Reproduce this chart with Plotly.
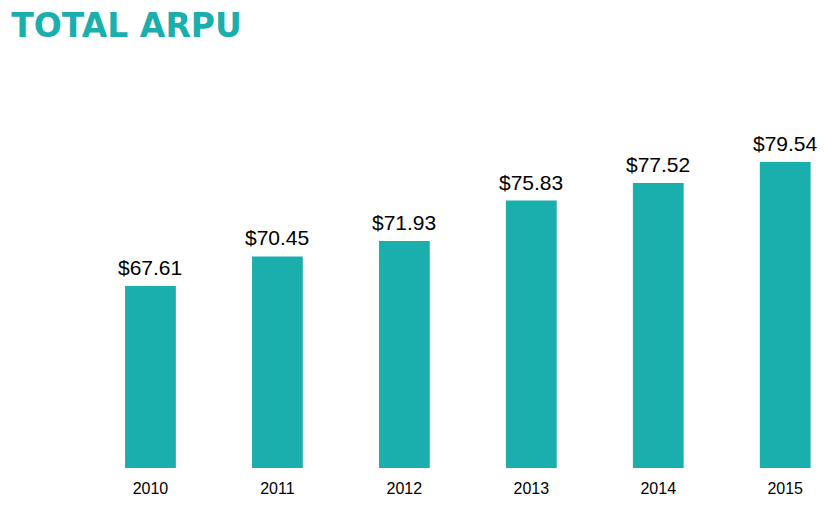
import plotly.graph_objects as go

# Total ARPU per year
years = ["2010", "2011", "2012", "2013", "2014", "2015"]
arpu = [67.61, 70.45, 71.93, 75.83, 77.52, 79.54]
labels = [f"${v:.2f}" for v in arpu]

teal = "#1aafad"

fig = go.Figure()

fig.add_trace(go.Bar(
    x=years,
    y=arpu,
    width=0.4,
    marker_color=teal,
    marker_line_width=0,
    showlegend=False,
    hovertemplate="%{x}: $%{y:.2f}<extra></extra>",
))

# value labels sit a little above each bar (category index as x)
for i, (v, lab) in enumerate(zip(arpu, labels)):
    fig.add_annotation(
        x=i, y=v, text=lab,
        showarrow=False,
        yanchor="bottom",
        yshift=5,
        font=dict(size=21, color="black", family="Liberation Sans, Arial"),
    )

fig.update_layout(
    width=828,
    height=506,
    title=dict(
        text="TOTAL ARPU",
        xref="container",
        x=0.004,
        xanchor="left",
        yref="container",
        y=0.966,
        yanchor="middle",
        font=dict(size=33, color=teal, family="DejaVu Sans", weight="bold"),
    ),
    xaxis=dict(
        type="category",
        range=[-0.5, 5.4],
        showgrid=False,
        zeroline=False,
        showline=False,
        ticks="",
        ticklabelstandoff=9,
        tickfont=dict(size=16, color="black", family="Liberation Sans, Arial"),
    ),
    yaxis=dict(
        range=[50.1, 85.5],
        showgrid=False,
        zeroline=False,
        showline=False,
        showticklabels=False,
    ),
    margin=dict(l=79, r=0, t=92, b=46, pad=0),
    plot_bgcolor="white",
    paper_bgcolor="white",
)

fig.write_html("out.html")
